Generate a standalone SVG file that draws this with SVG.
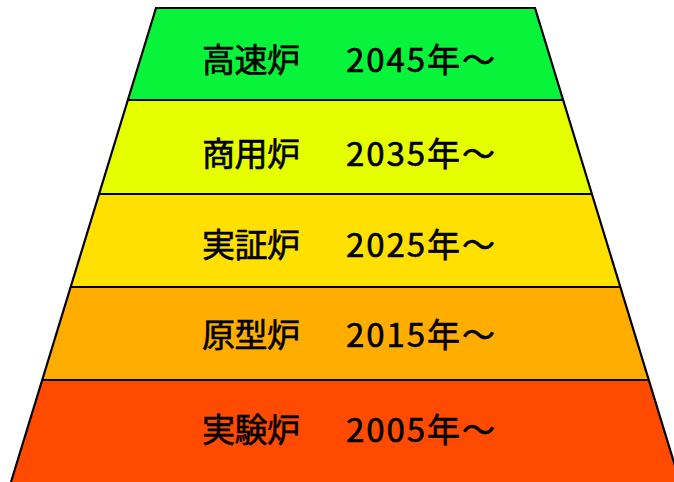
<svg xmlns="http://www.w3.org/2000/svg" width="674" height="482" viewBox="0 0 674 482">
<style>
.band{stroke:none}
.edge{fill:none;stroke:#000;stroke-width:2.2;stroke-linejoin:miter}
.sep{stroke:#000;stroke-width:2.2}
text{font-family:"Noto Sans CJK JP","Noto Sans",sans-serif;font-size:33px;fill:#000;stroke:#000;stroke-width:0.6}
</style>
<rect width="674" height="482" fill="#fff"/>
<g id="band-kousokuro">
<polygon class="band" fill="#07F43A" points="156,8 535,8 563.2,100 127.8,100"/>
<text x="202" y="72" textLength="98">高速炉</text>
<text x="346" y="72" textLength="149">2045年～</text>
</g>
<g id="band-shouyouro">
<polygon class="band" fill="#E5FF00" points="127.8,100 563.2,100 591.9,194 99.1,194"/>
<text x="202" y="166" textLength="98">商用炉</text>
<text x="346" y="166" textLength="149">2035年～</text>
</g>
<g id="band-jisshouro">
<polygon class="band" fill="#FFE000" points="99.1,194 591.9,194 620.4,287 70.6,287"/>
<text x="202" y="257" textLength="98">実証炉</text>
<text x="346" y="257" textLength="149">2025年～</text>
</g>
<g id="band-genkeiro">
<polygon class="band" fill="#FFAE00" points="70.6,287 620.4,287 648.8,380 42.2,380"/>
<text x="202" y="347" textLength="98">原型炉</text>
<text x="346" y="347" textLength="149">2015年～</text>
</g>
<g id="band-jikkenro">
<polygon class="band" fill="#FF4B00" points="42.2,380 648.8,380 680,482 11,482"/>
<text x="202" y="442" textLength="98">実験炉</text>
<text x="346" y="442" textLength="149">2005年～</text>
</g>
<g id="connectors">
<polyline class="edge" points="11,482 156,8 535,8 680,482"/>
<line class="sep" x1="127.8" y1="100" x2="563.2" y2="100"/>
<line class="sep" x1="99.1" y1="194" x2="591.9" y2="194"/>
<line class="sep" x1="70.6" y1="287" x2="620.4" y2="287"/>
<line class="sep" x1="42.2" y1="380" x2="648.8" y2="380"/>
</g>
</svg>
